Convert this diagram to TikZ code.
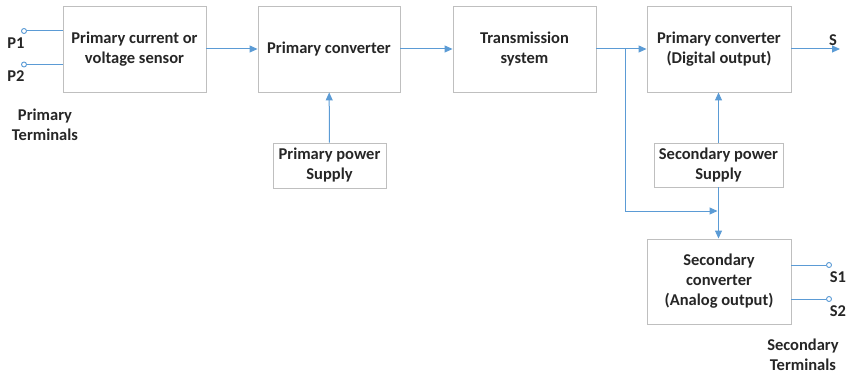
\documentclass[tikz,border=0pt]{standalone}
\usepackage{fontspec}
\setmainfont{Carlito}
\usetikzlibrary{arrows.meta}
\definecolor{wire}{HTML}{5B9BD5}
\definecolor{frame}{HTML}{BFBFBF}
\definecolor{ink}{HTML}{262626}
\begin{document}
\begin{tikzpicture}[x=1pt,y=-1pt,
  blockbox/.style={draw=frame,line width=0.9pt,fill=white,text=ink,align=center,
    font=\bfseries\fontsize{16.5}{20}\selectfont,inner sep=0pt},
  link/.style={draw=wire,line width=1pt,-{Triangle[length=8pt,width=7pt]}},
  wireline/.style={draw=wire,line width=1pt},
  terminal/.style={circle,draw=wire,line width=0.9pt,fill=white,minimum size=5pt,inner sep=0pt},
  lbl/.style={text=ink,font=\bfseries\fontsize{16.5}{20}\selectfont,align=center,inner sep=0pt}]
\useasboundingbox (0,0) rectangle (848,374);
% main blocks
\node[blockbox,minimum width=143pt,minimum height=86pt] (sensor) at (134.5,49) {Primary current or\\voltage sensor};
\node[blockbox,minimum width=142pt,minimum height=86pt] (pconv) at (329,49) {Primary converter};
\node[blockbox,minimum width=143pt,minimum height=86pt] (trans) at (524.5,49) {Transmission\\system};
\node[blockbox,minimum width=144pt,minimum height=86pt] (dconv) at (719,49) {Primary converter\\(Digital output)};
\node[blockbox,minimum width=113pt,minimum height=45pt] (ppsu) at (329.5,165.5) {Primary power\\Supply};
\node[blockbox,minimum width=129pt,minimum height=44pt] (spsu) at (718.5,165) {Secondary power\\Supply};
\node[blockbox,minimum width=144pt,minimum height=85pt] (sconv) at (719,281.5) {Secondary\\converter\\(Analog output)};
% terminals
\node[terminal] (p1) at (24,31) {};
\node[terminal] (p2) at (24,64.5) {};
\node[terminal] (s1) at (829,265) {};
\node[terminal] (s2) at (829,299) {};
\coordinate (sout) at (840,49);
\coordinate (tap) at (625,49);
\coordinate (tapdown) at (625,211);
\coordinate (join) at (717.5,211);
% terminal labels
\node[lbl] (p1l) at (16,43) {P1};
\node[lbl] (p2l) at (16,76) {P2};
\node[lbl] (ptl) at (45,125) {Primary\\Terminals};
\node[lbl] (sl) at (833,40) {S};
\node[lbl] (s1l) at (838,277) {S1};
\node[lbl] (s2l) at (838,311) {S2};
\node[lbl] (stl) at (803,355) {Secondary\\Terminals};
% connectors
\draw[wireline] (p1) -- (p1 -| sensor.west);
\draw[wireline] (p2) -- (p2 -| sensor.west);
\draw[link] (sensor) -- (pconv);
\draw[link] (pconv) -- (trans);
\draw[link] (trans) -- (dconv);
\draw[link] (dconv) -- (sout);
\draw[link] (ppsu) -- (pconv);
\draw[link] (spsu.north) -- (spsu.north |- dconv.south);
\draw[wireline] (tap) -- (tapdown);
\draw[link] (tapdown) -- (join);
\draw[link] (spsu.south) -- (spsu.south |- sconv.north);
\draw[wireline] (s1 -| sconv.east) -- (s1);
\draw[wireline] (s2 -| sconv.east) -- (s2);
\end{tikzpicture}
\end{document}
